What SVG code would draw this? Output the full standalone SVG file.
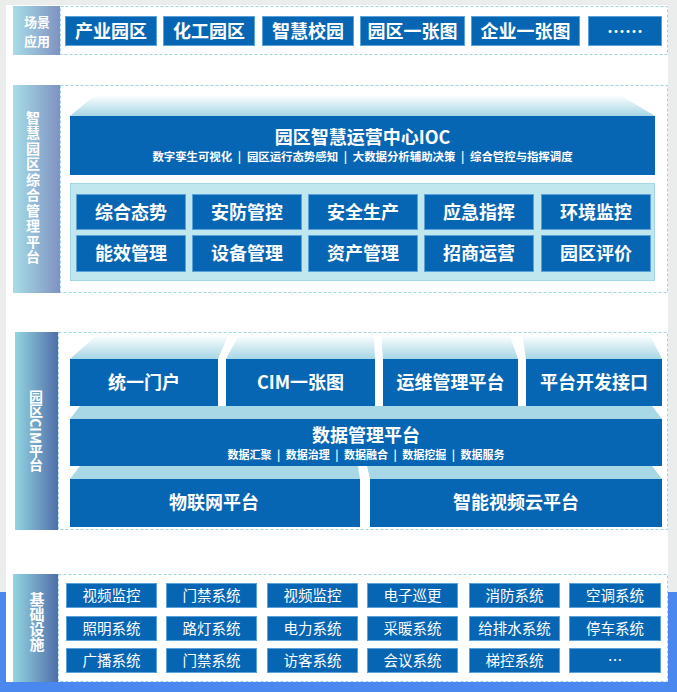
<svg xmlns="http://www.w3.org/2000/svg" width="677" height="692" viewBox="0 0 677 692">
<defs>
<linearGradient id="lab1" x1="0" y1="0" x2="1" y2="0"><stop offset="0" stop-color="#a7dde7"/><stop offset="1" stop-color="#7f92c2"/></linearGradient>
<linearGradient id="lab2" x1="0" y1="0" x2="1" y2="0"><stop offset="0" stop-color="#93d5e0"/><stop offset="1" stop-color="#506ea9"/></linearGradient>
<linearGradient id="bev" x1="0" y1="0" x2="0" y2="1"><stop offset="0" stop-color="#ffffff"/><stop offset="1" stop-color="#a6d6e5"/></linearGradient>
<style>
.lab1{fill:url(#lab1)}
.lab2{fill:url(#lab2)}
.frame{fill:none;stroke:#9fd5e2;stroke-width:1;stroke-dasharray:3 2}
.box{fill:#0766b4;stroke:#5aa2d8;stroke-width:1}
.bar{fill:#0766b4}
.panel{fill:#c0e6ee;stroke:#a3d5e3;stroke-width:1}
.bev{fill:url(#bev)}
.bevs{fill:#a8d8e6}
.gap{fill:#ffffff}
text{font-family:"Noto Sans CJK SC","Noto Sans",sans-serif;fill:#ffffff}
.t18{font-size:18px;font-weight:bold;text-anchor:middle}
.t11{font-size:11px;font-weight:bold;text-anchor:middle}
.t14{font-size:14.5px;font-weight:400;text-anchor:middle}
.vl{font-size:14px;font-weight:bold;text-anchor:middle;writing-mode:vertical-rl}
</style>
</defs>
<rect x="0" y="0" width="677" height="692" fill="#ebedec"/>
<rect x="0" y="592" width="677" height="100" fill="#4a88ef"/>
<rect x="6" y="5" width="662" height="677" fill="#ffffff"/>

<!-- Section 1: 场景应用 -->
<g id="sec-scene">
<rect class="lab1" x="13" y="6" width="47" height="49"/>
<text style="font-size:13px;font-weight:bold;text-anchor:middle"><tspan x="37" y="26.5">场景</tspan><tspan x="37" y="45.5">应用</tspan></text>
<rect class="frame" x="60.5" y="6.5" width="607" height="48"/>
</g>
<g id="scene-1"><rect class="box" x="65.5" y="16.5" width="91" height="29"/><text class="t18" x="111" y="37.5">产业园区</text></g>
<g id="scene-2"><rect class="box" x="163.5" y="16.5" width="91" height="29"/><text class="t18" x="209" y="37.5">化工园区</text></g>
<g id="scene-3"><rect class="box" x="262.5" y="16.5" width="91" height="29"/><text class="t18" x="308" y="37.5">智慧校园</text></g>
<g id="scene-4"><rect class="box" x="360.5" y="16.5" width="104" height="29"/><text class="t18" x="412.5" y="37.5">园区一张图</text></g>
<g id="scene-5"><rect class="box" x="471.5" y="16.5" width="108" height="29"/><text class="t18" x="525.5" y="37.5">企业一张图</text></g>
<g id="scene-6"><rect class="box" x="588.5" y="16.5" width="73" height="29"/><text class="t18" x="625" y="37.5">……</text></g>

<!-- Section 2: 智慧园区综合管理平台 -->
<g id="sec-mgmt">
<rect class="lab1" x="13" y="85" width="47" height="208"/>
<text class="vl" x="33" y="188" letter-spacing="1.5">智慧园区综合管理平台</text>
<rect class="frame" x="60.5" y="85.5" width="607" height="207"/>
</g>
<g id="ioc">
<polygon class="bev" points="95,95 620,95 655,116 70,116"/>
<rect class="bar" x="70" y="116" width="585" height="59"/>
<text class="t18" x="362.5" y="144">园区智慧运营中心IOC</text>
<text class="t11" x="362.5" y="161" style="font-size:11.4px">数字孪生可视化&#8194;|&#8194;园区运行态势感知&#8194;|&#8194;大数据分析辅助决策&#8194;|&#8194;综合管控与指挥调度</text>
</g>
<g id="mgmt-panel"><rect class="panel" x="70.5" y="183.5" width="584" height="97"/></g>
<g id="m-1"><rect class="box" x="76.5" y="194.5" width="109" height="35"/><text class="t18" x="131" y="218.5">综合态势</text></g>
<g id="m-2"><rect class="box" x="192.5" y="194.5" width="109" height="35"/><text class="t18" x="247" y="218.5">安防管控</text></g>
<g id="m-3"><rect class="box" x="308.5" y="194.5" width="109" height="35"/><text class="t18" x="363" y="218.5">安全生产</text></g>
<g id="m-4"><rect class="box" x="424.5" y="194.5" width="109" height="35"/><text class="t18" x="479" y="218.5">应急指挥</text></g>
<g id="m-5"><rect class="box" x="541.5" y="194.5" width="109" height="35"/><text class="t18" x="596" y="218.5">环境监控</text></g>
<g id="m-6"><rect class="box" x="76.5" y="235.5" width="109" height="36"/><text class="t18" x="131" y="260">能效管理</text></g>
<g id="m-7"><rect class="box" x="192.5" y="235.5" width="109" height="36"/><text class="t18" x="247" y="260">设备管理</text></g>
<g id="m-8"><rect class="box" x="308.5" y="235.5" width="109" height="36"/><text class="t18" x="363" y="260">资产管理</text></g>
<g id="m-9"><rect class="box" x="424.5" y="235.5" width="109" height="36"/><text class="t18" x="479" y="260">招商运营</text></g>
<g id="m-10"><rect class="box" x="541.5" y="235.5" width="109" height="36"/><text class="t18" x="596" y="260">园区评价</text></g>

<!-- Section 3: 园区CIM平台 -->
<g id="sec-cim">
<rect class="lab2" x="15" y="332" width="43" height="198"/>
<text class="vl" x="36" y="431">园区CIM平台</text>
<rect class="frame" x="58.5" y="332.5" width="609" height="197"/>
</g>
<g id="cim-bevel">
<polygon class="bev" points="97,335 650,335 662,359 70,359"/>
<polygon class="gap" points="229,333 240,333 226,359 218,359"/>
<polygon class="gap" points="374,333 381,333 383,359 375,359"/>
<polygon class="gap" points="509,333 522,333 526,359 518,359"/>
</g>
<g id="c-1"><rect class="bar" x="70" y="359" width="148" height="47"/><text class="t18" x="144" y="389">统一门户</text></g>
<g id="c-2"><rect class="bar" x="226" y="359" width="149" height="47"/><text class="t18" x="300.5" y="389">CIM一张图</text></g>
<g id="c-3"><rect class="bar" x="383" y="359" width="135" height="47"/><text class="t18" x="450.5" y="389">运维管理平台</text></g>
<g id="c-4"><rect class="bar" x="526" y="359" width="136" height="47"/><text class="t18" x="594" y="389">平台开发接口</text></g>
<g id="c-data">
<polygon class="bevs" points="80,406 652,406 662,419 70,419"/>
<rect class="bar" x="70" y="419" width="592" height="47"/>
<text class="t18" x="366" y="442">数据管理平台</text>
<text class="t11" x="366" y="459">数据汇聚&#8194;|&#8194;数据治理&#8194;|&#8194;数据融合&#8194;|&#8194;数据挖掘&#8194;|&#8194;数据服务</text>
</g>
<g id="c-bottom-bevel">
<polygon class="bevs" points="80,466 652,466 662,479 70,479"/>
<polygon class="gap" points="358,466 367,466 370,479 360,479"/>
</g>
<g id="c-iot"><rect class="bar" x="70" y="479" width="290" height="48"/><text class="t18" x="214" y="509">物联网平台</text></g>
<g id="c-video"><rect class="bar" x="370" y="479" width="292" height="48"/><text class="t18" x="516" y="509">智能视频云平台</text></g>

<!-- Section 4: 基础设施 -->
<g id="sec-infra">
<rect class="lab2" x="13" y="574" width="45" height="108"/>
<text class="vl" x="37" y="622" style="font-size:15px">基础设施</text>
<rect class="frame" x="58.5" y="574.5" width="609" height="107"/>
</g>
<g id="i-1"><rect class="box" x="66.5" y="583.5" width="90" height="24"/><text class="t14" x="111.5" y="601">视频监控</text></g>
<g id="i-2"><rect class="box" x="166.5" y="583.5" width="90" height="24"/><text class="t14" x="211.5" y="601">门禁系统</text></g>
<g id="i-3"><rect class="box" x="267.5" y="583.5" width="90" height="24"/><text class="t14" x="312.5" y="601">视频监控</text></g>
<g id="i-4"><rect class="box" x="367.5" y="583.5" width="90" height="24"/><text class="t14" x="412.5" y="601">电子巡更</text></g>
<g id="i-5"><rect class="box" x="469.5" y="583.5" width="90" height="24"/><text class="t14" x="514.5" y="601">消防系统</text></g>
<g id="i-6"><rect class="box" x="569.5" y="583.5" width="91" height="24"/><text class="t14" x="615" y="601">空调系统</text></g>
<g id="i-7"><rect class="box" x="66.5" y="616.5" width="90" height="24"/><text class="t14" x="111.5" y="634">照明系统</text></g>
<g id="i-8"><rect class="box" x="166.5" y="616.5" width="90" height="24"/><text class="t14" x="211.5" y="634">路灯系统</text></g>
<g id="i-9"><rect class="box" x="267.5" y="616.5" width="90" height="24"/><text class="t14" x="312.5" y="634">电力系统</text></g>
<g id="i-10"><rect class="box" x="367.5" y="616.5" width="90" height="24"/><text class="t14" x="412.5" y="634">采暖系统</text></g>
<g id="i-11"><rect class="box" x="469.5" y="616.5" width="90" height="24"/><text class="t14" x="514.5" y="634">给排水系统</text></g>
<g id="i-12"><rect class="box" x="569.5" y="616.5" width="91" height="24"/><text class="t14" x="615" y="634">停车系统</text></g>
<g id="i-13"><rect class="box" x="66.5" y="648.5" width="90" height="24"/><text class="t14" x="111.5" y="666">广播系统</text></g>
<g id="i-14"><rect class="box" x="166.5" y="648.5" width="90" height="24"/><text class="t14" x="211.5" y="666">门禁系统</text></g>
<g id="i-15"><rect class="box" x="267.5" y="648.5" width="90" height="24"/><text class="t14" x="312.5" y="666">访客系统</text></g>
<g id="i-16"><rect class="box" x="367.5" y="648.5" width="90" height="24"/><text class="t14" x="412.5" y="666">会议系统</text></g>
<g id="i-17"><rect class="box" x="469.5" y="648.5" width="90" height="24"/><text class="t14" x="514.5" y="666">梯控系统</text></g>
<g id="i-18"><rect class="box" x="569.5" y="648.5" width="91" height="24"/><text class="t14" x="615" y="666">…</text></g>
</svg>
